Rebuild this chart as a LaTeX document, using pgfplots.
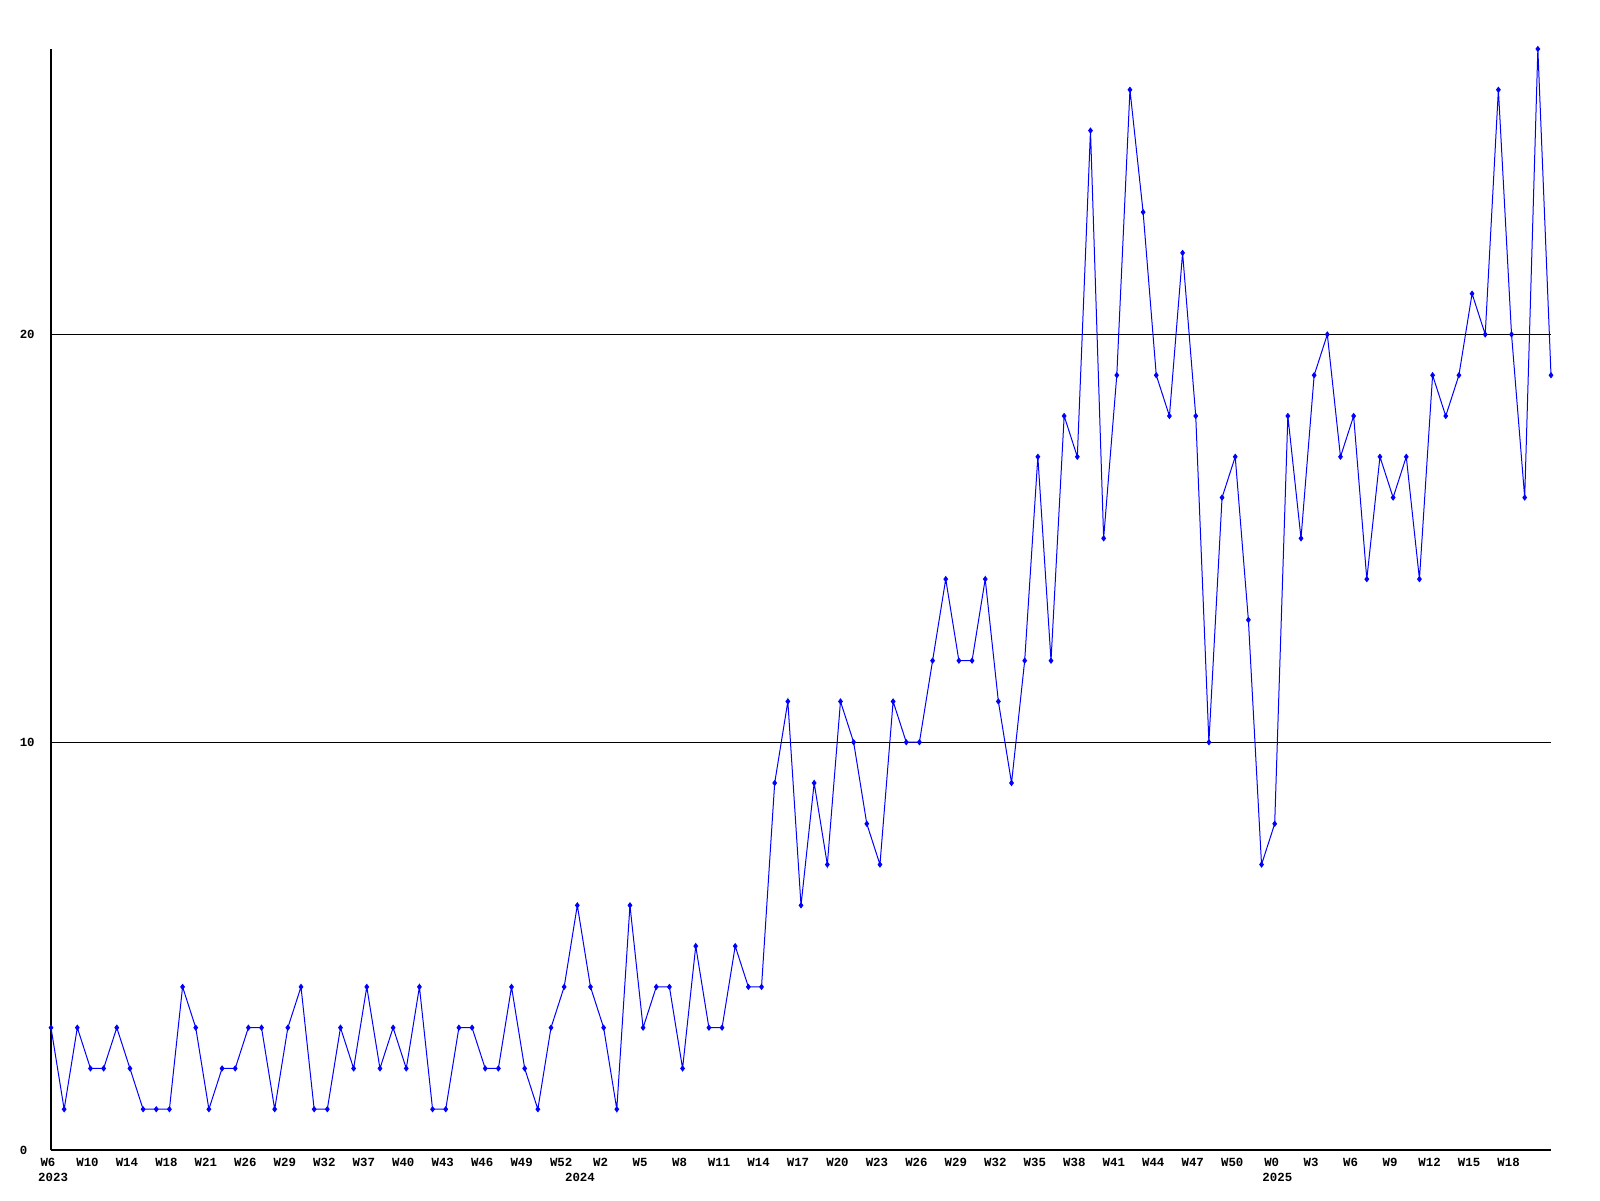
\documentclass[border=0pt]{standalone}
\usepackage{fontspec}
\setmonofont{Liberation Mono}
\newfontfamily\lblfont{Liberation Mono}[BoldFont={Liberation Mono Bold}]
\usepackage{pgfplots}
\pgfplotsset{compat=1.18}
\usepackage{pgfplotstable}
\pgfplotstableread{
x y
0 3
1 1
2 3
3 2
4 2
5 3
6 2
7 1
8 1
9 1
10 4
11 3
12 1
13 2
14 2
15 3
16 3
17 1
18 3
19 4
20 1
21 1
22 3
23 2
24 4
25 2
26 3
27 2
28 4
29 1
30 1
31 3
32 3
33 2
34 2
35 4
36 2
37 1
38 3
39 4
40 6
41 4
42 3
43 1
44 6
45 3
46 4
47 4
48 2
49 5
50 3
51 3
52 5
53 4
54 4
55 9
56 11
57 6
58 9
59 7
60 11
61 10
62 8
63 7
64 11
65 10
66 10
67 12
68 14
69 12
70 12
71 14
72 11
73 9
74 12
75 17
76 12
77 18
78 17
79 25
80 15
81 19
82 26
83 23
84 19
85 18
86 22
87 18
88 10
89 16
90 17
91 13
92 7
93 8
94 18
95 15
96 19
97 20
98 17
99 18
100 14
101 17
102 16
103 17
104 14
105 19
106 18
107 19
108 21
109 20
110 26
111 20
112 16
113 27
114 19
}\datatable
\newcommand\lblf{\lblfont\bfseries\fontsize{6.2}{7}\selectfont}
\begin{document}
\begin{tikzpicture}
\path[use as bounding box] (-25.5pt,-25pt) rectangle (774.5pt,575pt);
\begin{axis}[
  scale only axis,
  width=750pt, height=550.5pt,
  xmin=0, xmax=114, ymin=0, ymax=27,
  axis x line=bottom, axis y line=left,
  axis line style={-, line width=0.7pt, black},
  clip=false,
  xtick={0,3,...,111},
  xticklabels={W6,W10,W14,W18,W21,W26,W29,W32,W37,W40,W43,W46,W49,W52,W2,W5,W8,W11,W14,W17,W20,W23,W26,W29,W32,W35,W38,W41,W44,W47,W50,W0,W3,W6,W9,W12,W15,W18},
  ytick={0,10,20},
  major tick length=0pt,
  ymajorgrids,
  grid style={black, line width=0.5pt},
  /pgf/number format/assume math mode=true,
  ticklabel style={font=\lblf, inner sep=0pt},
  xticklabel style={anchor=center, yshift=-6.2pt, xshift=-1.5pt},
  yticklabel style={anchor=west, xshift=-15.8pt},
]
\addplot[color={rgb,255:red,0;green,0;blue,255}, line width=0.5pt, mark=diamond*, mark size=1.2pt] table[x=x,y=y] {\datatable};
\node[font=\lblf, inner sep=0pt] at (axis cs:0.16,0) [yshift=-13.8pt] {2023};
\node[font=\lblf, inner sep=0pt] at (axis cs:40.2,0) [yshift=-13.8pt] {2024};
\node[font=\lblf, inner sep=0pt] at (axis cs:93.2,0) [yshift=-13.8pt] {2025};
\end{axis}
\end{tikzpicture}
\end{document}
